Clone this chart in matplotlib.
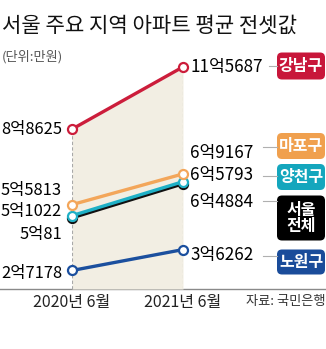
import matplotlib
matplotlib.use("Agg")
import matplotlib.pyplot as plt
from matplotlib.patches import FancyBboxPatch

plt.rcParams['font.family'] = ['Noto Sans CJK KR', 'DejaVu Sans']

# 평균 전셋값 (단위: 만원)
periods = ['2020년 6월', '2021년 6월']
regions = ['서울\n전체', '양천구', '마포구', '노원구', '강남구']
values_2020 = [50081, 51022, 55813, 27178, 88625]
values_2021 = [64884, 65793, 69167, 36262, 115687]
labels_2020 = ['5억81', '5억1022', '5억5813', '2억7178', '8억8625']
labels_2021 = ['6억4884', '6억5793', '6억9167', '3억6262', '11억5687']

colors = ['#111111', '#1fb0c6', '#f3a65a', '#1b4f9e', '#cc1d3b']
box_colors = ['#000000', '#14a6bd', '#f0a04e', '#1a4c9a', '#c8163a']

# label nudges in pixels (positive = up)
left_dy = [-17, 4, 14, -3, 0]
right_dy = [-18, 7, 21, -5, 0]
# tag boxes: center y (px from top), height
box_y = [218, 177, 146, 262, 66]
box_h = [45, 26, 26, 25, 27]
leader_y = [201, 176, 147, 256, 66]

W, H = 326, 349
fig = plt.figure(figsize=(W / 100, H / 100), dpi=100)

# pixel-space layer for title, baseline and tags
bg = fig.add_axes([0, 0, 1, 1])
bg.set_xlim(0, W)
bg.set_ylim(H, 0)
bg.axis('off')

bg.text(2, 26, '서울 주요 지역 아파트 평균 전셋값', fontsize=15.2,
        ha='left', va='center', color='#111111')
bg.text(2, 57, '(단위:만원)', fontsize=9.5, ha='left', va='center', color='#555555')
bg.plot([0, W], [289, 289], color='#8a8a8a', lw=1.0)
bg.text(325, 302, '자료: 국민은행', fontsize=9.5, ha='right', va='center', color='#333333')

for i, name in enumerate(regions):
    y, h = box_y[i], box_h[i]
    box = FancyBboxPatch((277, y - h / 2), 48, h,
                         boxstyle='round,pad=0,rounding_size=5',
                         fc=box_colors[i], ec='none')
    bg.add_patch(box)
    bg.text(301, y, name, color='white', fontsize=11.5, fontweight='bold',
            ha='center', va='center', linespacing=1.05)
    x0 = 269 if i == 4 else 263
    bg.plot([x0, 277], [leader_y[i], leader_y[i]], color='#b0b0b0', lw=0.8)

# chart area between the two dates
ax = fig.add_axes([72 / W, (H - 289) / H, 111 / W, 249 / H])
ax.patch.set_alpha(0)
ax.set_xlim(0, 1)
ylo, yhi = 19130, 127391
ax.set_ylim(ylo, yhi)
ax.axis('off')

xs = [0, 1]
top = [values_2020[-1], values_2021[-1]]
ax.fill_between(xs, ylo, top, color='#f2eee3', lw=0, zorder=0)
ax.vlines(xs, ylo, top, colors='#a8a8a8', linestyles=(0, (3, 2)), lw=0.8, zorder=1)

for i in range(len(regions)):
    ax.plot(xs, [values_2020[i], values_2021[i]], color=colors[i], lw=2.4,
            marker='o', ms=6.5, mfc='white', mec=colors[i], mew=1.6,
            clip_on=False, zorder=3 + i)
    ax.annotate(labels_2020[i], (0, values_2020[i]), xytext=(-10, left_dy[i]),
                textcoords='offset pixels', ha='right', va='center',
                fontsize=11.9, color='#000000', annotation_clip=False)
    ax.annotate(labels_2021[i], (1, values_2021[i]), xytext=(7, right_dy[i]),
                textcoords='offset pixels', ha='left', va='center',
                fontsize=12.3, color='#000000', annotation_clip=False)

for x, p in zip(xs, periods):
    ax.annotate(p, (x, ylo), xytext=(0, -13), textcoords='offset pixels',
                ha='center', va='center', fontsize=11.5, color='#222222',
                annotation_clip=False)

fig.savefig('out.png', dpi=100)
